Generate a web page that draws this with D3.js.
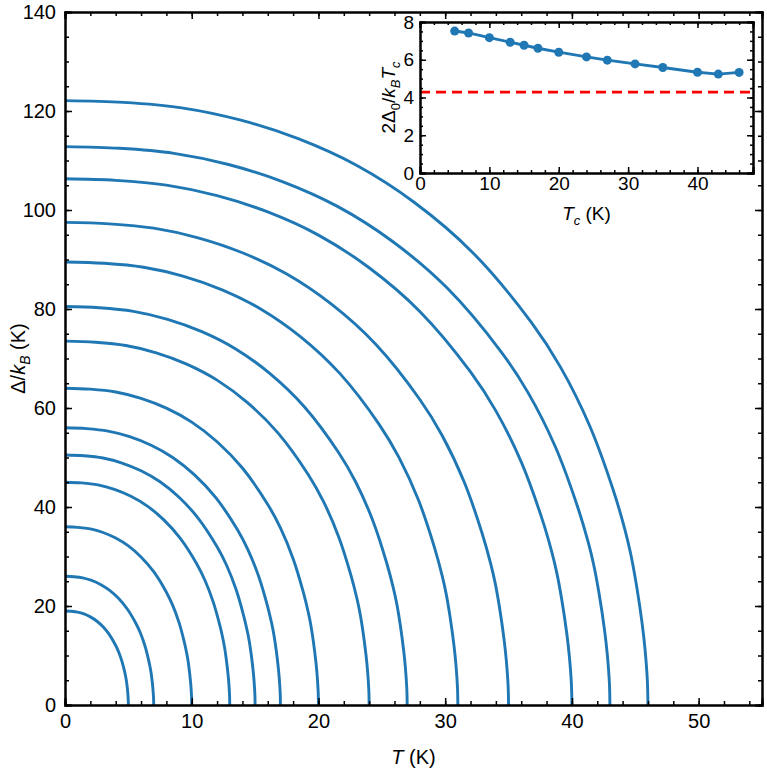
<!DOCTYPE html>
<html>
<head>
<meta charset="utf-8">
<script src="https://cdn.jsdelivr.net/npm/d3@7"></script>
<style>
  body { margin: 0; background: #fff; overflow: hidden; }
  svg { display: block; }
  text { font-family: "Liberation Sans", Arial, sans-serif; fill: #000; }
</style>
</head>
<body>
<div id="chart"></div>
<script>
// critical temperatures (K) and zero-temperature gaps (K) of each curve
const tcValues = [5, 7, 10, 13, 15, 17, 20, 24, 27, 31, 35, 40, 43, 46];
const gapValues = [19, 26, 36, 45, 50.5, 56, 64, 73.5, 80.5, 89.5, 97.5, 106.3, 112.8, 122.1];

// gap shape, T/Tc vs Delta/Delta0
const shapeT = [0, 0.1, 0.2, 0.3, 0.4, 0.5, 0.6, 0.7, 0.8, 0.85, 0.9, 0.94, 0.96, 0.97, 0.98, 0.99, 0.995, 0.999, 1.0];
const shapeGap = [1, 0.997, 0.988, 0.968, 0.937, 0.893, 0.831, 0.748, 0.633, 0.559, 0.462, 0.357, 0.292, 0.252, 0.2, 0.135, 0.092, 0.04, 0];

// inset: 2Delta0/kBTc vs Tc
const insetTc = [5, 7, 10, 13, 15, 17, 20, 24, 27, 31, 35, 40, 43, 46];
const insetRatio = [7.52, 7.42, 7.17, 6.93, 6.77, 6.61, 6.40, 6.15, 5.98, 5.78, 5.59, 5.34, 5.24, 5.33];
const bcsRatio = 4.28;

const xTicks = [0, 10, 20, 30, 40, 50];
const yTicks = [0, 20, 40, 60, 80, 100, 120, 140];
const insetXTicks = [0, 10, 20, 30, 40];
const insetYTicks = [0, 2, 4, 6, 8];

const blue = "#1f77b4";
const width = 767, height = 775;
const margin = { top: 12, right: 5, bottom: 70, left: 65 };
const innerWidth = width - margin.left - margin.right;
const innerHeight = height - margin.top - margin.bottom;

const svg = d3.select("#chart").append("svg")
  .attr("width", width)
  .attr("height", height);

const g = svg.append("g")
  .attr("transform", `translate(${margin.left},${margin.top})`);

const x = d3.scaleLinear().domain([0, 55]).range([0, innerWidth]);
const y = d3.scaleLinear().domain([0, 140]).range([innerHeight, 0]);

// inward ticks on all four sides
function frame(sel, xs, ys, w, h, opts) {
  const styleAxis = a => {
    a.attr("font-family", null).attr("font-size", null);
    a.select(".domain").attr("stroke", "#000").attr("stroke-width", 2);
    a.selectAll(".tick line").attr("stroke", "#000").attr("stroke-width", 1.5);
    a.selectAll("text").style("font-size", opts.font + "px");
  };
  const bare = a => { a.selectAll("text").remove(); styleAxis(a); };
  sel.append("g").attr("transform", `translate(0,${h})`)
    .call(d3.axisBottom(xs).tickValues(opts.xMinor).tickSize(-opts.minor))
    .call(bare);
  sel.append("g").attr("transform", `translate(0,${h})`)
    .call(d3.axisBottom(xs).tickValues(opts.xMajor).tickSize(-opts.major).tickPadding(opts.xPad))
    .call(styleAxis);
  sel.append("g")
    .call(d3.axisTop(xs).tickValues(opts.xMinor).tickSize(-opts.minor))
    .call(bare);
  sel.append("g")
    .call(d3.axisTop(xs).tickValues(opts.xMajor).tickSize(-opts.major))
    .call(bare);
  sel.append("g")
    .call(d3.axisLeft(ys).tickValues(opts.yMinor).tickSize(-opts.minor))
    .call(bare);
  sel.append("g")
    .call(d3.axisLeft(ys).tickValues(opts.yMajor).tickSize(-opts.major).tickPadding(opts.yPad))
    .call(styleAxis);
  sel.append("g").attr("transform", `translate(${w},0)`)
    .call(d3.axisRight(ys).tickValues(opts.yMinor).tickSize(-opts.minor))
    .call(bare);
  sel.append("g").attr("transform", `translate(${w},0)`)
    .call(d3.axisRight(ys).tickValues(opts.yMajor).tickSize(-opts.major))
    .call(bare);
}

// gap curves
const line = d3.line()
  .x(d => x(d[0]))
  .y(d => y(d[1]))
  .curve(d3.curveCatmullRom.alpha(0.5));

tcValues.forEach((tc, i) => {
  const pts = shapeT.map((t, j) => [t * tc, shapeGap[j] * gapValues[i]]);
  g.append("path")
    .datum(pts)
    .attr("fill", "none")
    .attr("stroke", blue)
    .attr("stroke-width", 2.9)
    .attr("d", line);
});

frame(g, x, y, innerWidth, innerHeight, {
  xMajor: xTicks, xMinor: d3.range(0, 55.1, 2),
  yMajor: yTicks, yMinor: d3.range(0, 140.1, 5),
  major: 7, minor: 4, font: 20, xPad: 9, yPad: 9
});

// axis titles
const xt = svg.append("text")
  .attr("x", margin.left + innerWidth / 2)
  .attr("y", 764)
  .attr("text-anchor", "middle")
  .style("font-size", "20px");
xt.append("tspan").attr("font-style", "italic").text("T");
xt.append("tspan").text(" (K)");

const yt = svg.append("text")
  .attr("transform", `translate(25,${margin.top + innerHeight / 2}) rotate(-90)`)
  .attr("text-anchor", "middle")
  .style("font-size", "20px");
yt.append("tspan").text("Δ/");
yt.append("tspan").attr("font-style", "italic").text("k");
yt.append("tspan").attr("dy", 5).style("font-size", "14px").attr("font-style", "italic").text("B");
yt.append("tspan").attr("dy", -5).text(" (K)");

// inset
const inset = { left: 420, top: 22, right: 753, bottom: 173 };
const iw = inset.right - inset.left, ih = inset.bottom - inset.top;
const ig = svg.append("g").attr("transform", `translate(${inset.left},${inset.top})`);
ig.append("rect").attr("width", iw).attr("height", ih).attr("fill", "#fff");

const ix = d3.scaleLinear().domain([0, 48]).range([0, iw]);
const iy = d3.scaleLinear().domain([0, 8]).range([ih, 0]);

ig.append("line")
  .attr("x1", 0).attr("x2", iw)
  .attr("y1", iy(bcsRatio)).attr("y2", iy(bcsRatio))
  .attr("stroke", "#f00")
  .attr("stroke-width", 2.8)
  .attr("stroke-dasharray", "10,6");

const insetData = insetTc.map((t, i) => ({ tc: t, r: insetRatio[i] }));
ig.append("path")
  .datum(insetData)
  .attr("fill", "none")
  .attr("stroke", blue)
  .attr("stroke-width", 2.9)
  .attr("d", d3.line().x(d => ix(d.tc)).y(d => iy(d.r)));
ig.selectAll("circle")
  .data(insetData)
  .join("circle")
  .attr("cx", d => ix(d.tc))
  .attr("cy", d => iy(d.r))
  .attr("r", 4.5)
  .attr("fill", blue);

frame(ig, ix, iy, iw, ih, {
  xMajor: insetXTicks, xMinor: d3.range(0, 48.1, 2),
  yMajor: insetYTicks, yMinor: d3.range(0, 8.01, 0.5),
  major: 6, minor: 3, font: 19, xPad: 4, yPad: 6
});

const ixt = svg.append("text")
  .attr("x", inset.left + ix(24))
  .attr("y", 220)
  .attr("text-anchor", "middle")
  .style("font-size", "19px");
ixt.append("tspan").attr("font-style", "italic").text("T");
ixt.append("tspan").attr("dy", 5).style("font-size", "13px").attr("font-style", "italic").text("c");
ixt.append("tspan").attr("dy", -5).text(" (K)");

const iyt = svg.append("text")
  .attr("transform", `translate(395,${inset.top + ih / 2}) rotate(-90)`)
  .attr("text-anchor", "middle")
  .style("font-size", "19px");
iyt.append("tspan").text("2Δ");
iyt.append("tspan").attr("dy", 5).style("font-size", "13px").text("0");
iyt.append("tspan").attr("dy", -5).text("/");
iyt.append("tspan").attr("font-style", "italic").text("k");
iyt.append("tspan").attr("dy", 5).style("font-size", "13px").attr("font-style", "italic").text("B");
iyt.append("tspan").attr("dy", -5).attr("font-style", "italic").text("T");
iyt.append("tspan").attr("dy", 5).style("font-size", "13px").attr("font-style", "italic").text("c");
</script>
</body>
</html>
